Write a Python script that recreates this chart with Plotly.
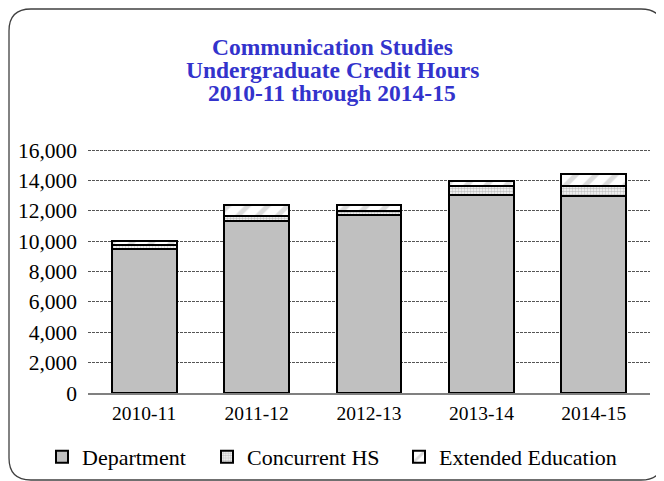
import plotly.graph_objects as go

categories = ["2010-11", "2011-12", "2012-13", "2013-14", "2014-15"]
department = [9500, 11330, 11730, 13050, 12980]
concurrent_hs = [240, 330, 260, 590, 660]
extended_education = [260, 730, 400, 330, 770]
y_ticks = [0, 2000, 4000, 6000, 8000, 10000, 12000, 14000, 16000]
y_tick_labels = ["0", "2,000", "4,000", "6,000", "8,000", "10,000", "12,000", "14,000", "16,000"]
title_lines = ["Communication Studies", "Undergraduate Credit Hours", "2010-11 through 2014-15"]

W, H = 664, 481
OFF = 8  # page body margin: figure pixel = screen pixel - 8
L, R, T, B = 80, 22, 140, 96
PW, PH = W - L - R, H - T - B
Y_TOP = 16000 * PH / (H - B - 142)   # so that 16,000 sits at fig y=142 px


def fx(x):  # figure pixel -> paper
    return (x - L) / PW


def fy(y):
    return (H - B - y) / PH


def sx(x):  # screen pixel -> paper
    return fx(x - OFF)


def sy(y):
    return fy(y - OFF)


FONT = "Liberation Serif, Times New Roman, serif"

fig = go.Figure()
fig.add_trace(go.Bar(
    x=categories, y=department, name="Department", legend="legend",
    marker=dict(color="#c0c0c0", line=dict(color="black", width=2)),
))
fig.add_trace(go.Bar(
    x=categories, y=concurrent_hs, name="Concurrent HS", legend="legend2",
    marker=dict(color="white", line=dict(color="black", width=2),
                pattern=dict(shape=".", fgcolor="#8a8a8a", bgcolor="white",
                             size=3, solidity=0.6, fillmode="overlay")),
))
fig.add_trace(go.Bar(
    x=categories, y=extended_education, name="Extended Education", legend="legend3",
    marker=dict(color="white", line=dict(color="black", width=2),
                pattern=dict(shape="/", fgcolor="#b8b8b8", bgcolor="white",
                             size=14, solidity=0.35, fillmode="overlay")),
))

# rounded chart border (figure pixels)
x0, y0, x1, y1, r = 1, 1, 655, 472, 22
path = (f"M {fx(x0)},{fy(y0 + r)} Q {fx(x0)},{fy(y0)} {fx(x0 + r)},{fy(y0)} "
        f"L {fx(x1 - r)},{fy(y0)} Q {fx(x1)},{fy(y0)} {fx(x1)},{fy(y0 + r)} "
        f"L {fx(x1)},{fy(y1 - r)} Q {fx(x1)},{fy(y1)} {fx(x1 - r)},{fy(y1)} "
        f"L {fx(x0 + r)},{fy(y1)} Q {fx(x0)},{fy(y1)} {fx(x0)},{fy(y1 - r)} Z")
fig.add_shape(type="path", path=path, xref="paper", yref="paper",
              line=dict(color="#404040", width=1.3), layer="below")

annotations = []
for i, line in enumerate(title_lines):
    annotations.append(dict(
        text=f"<b>{line}</b>", xref="paper", yref="paper",
        x=sx(332), y=sy(47 + 23 * i), xanchor="center", yanchor="middle",
        showarrow=False, font=dict(family=FONT, size=23.5, color="#3333cc"),
    ))


def legend_at(xscreen):
    return dict(orientation="h", x=sx(xscreen), xanchor="left", y=sy(457), yanchor="middle",
                font=dict(family=FONT, size=22, color="black"),
                bgcolor="rgba(0,0,0,0)", itemwidth=30)


fig.update_layout(
    width=W, height=H,
    margin=dict(l=L, r=R, t=T, b=B, autoexpand=False),
    paper_bgcolor="white", plot_bgcolor="white",
    barmode="stack", bargap=0.425,
    font=dict(family=FONT, size=19, color="black"),
    annotations=annotations,
    showlegend=True,
    legend=legend_at(42),
    legend2=legend_at(207),
    legend3=legend_at(399),
    xaxis=dict(type="category", showgrid=False, showline=True, linecolor="#808080",
               linewidth=1.5, ticks="", tickfont=dict(family=FONT, size=19.5),
               ticklabelstandoff=2, automargin=False),
    yaxis=dict(range=[0, Y_TOP], tickvals=y_ticks, ticktext=y_tick_labels,
               showgrid=True, gridcolor="#555555", gridwidth=1, griddash="3px,1px",
               zeroline=False, showline=False, ticks="",
               tickfont=dict(family=FONT, size=21.5), ticklabelstandoff=10,
               automargin=False),
)

fig.write_html("out.html")
